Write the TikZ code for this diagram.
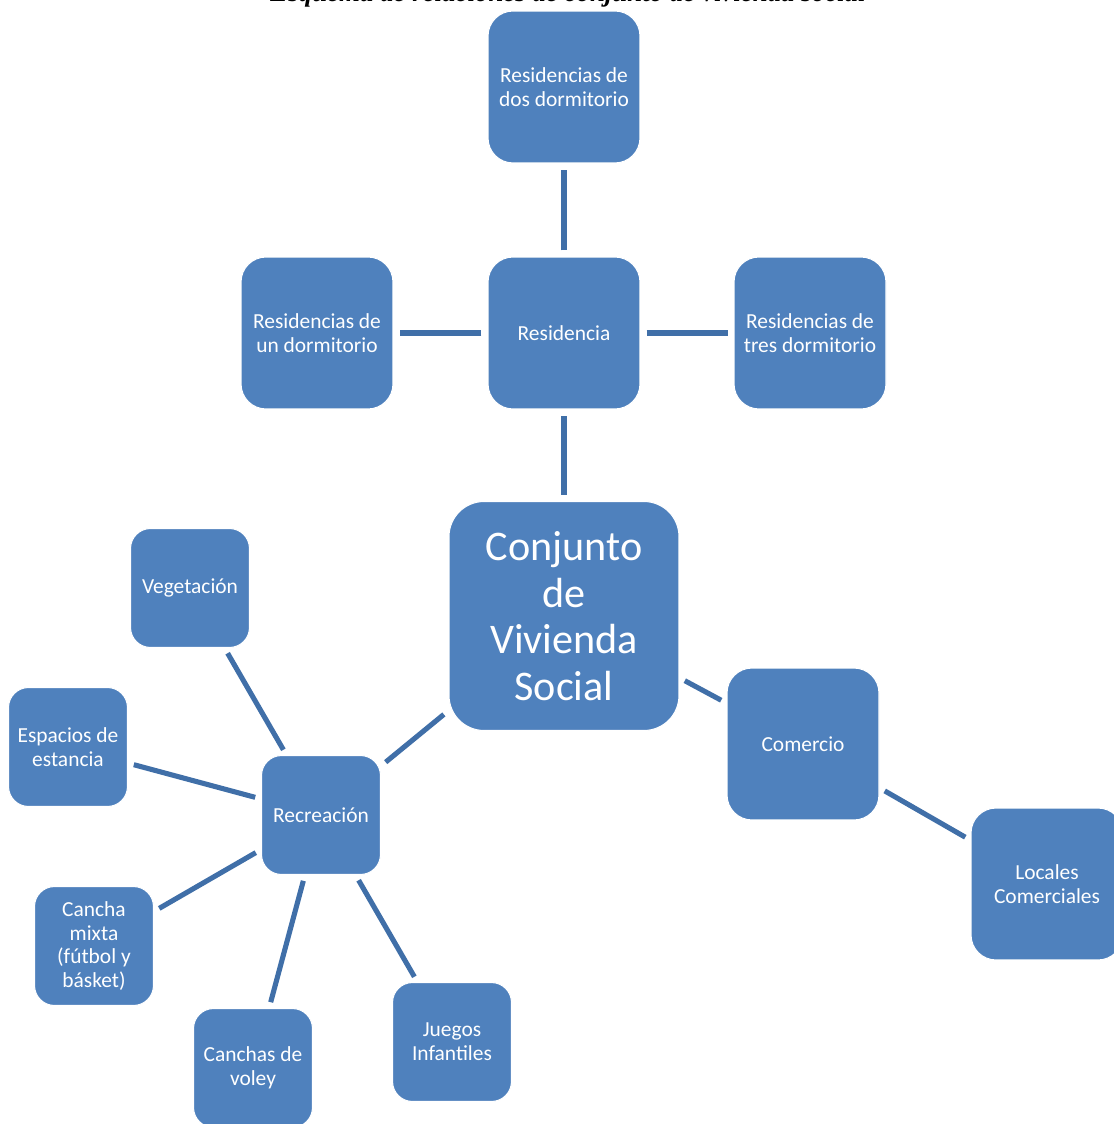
\documentclass[tikz,border=0pt]{standalone}
\usepackage{fontspec}
\setmainfont{Carlito}
\newfontfamily\titlefont{Liberation Serif}
\definecolor{boxblue}{RGB}{79,129,189}
\definecolor{lineblue}{RGB}{64,111,168}
\begin{document}
\begin{tikzpicture}[x=0.02cm,y=-0.02cm,
    box/.style={fill=boxblue,draw=white,line width=0.6pt,text=white,align=center,
                minimum width=3.04cm,minimum height=3.04cm,rounded corners=0.5cm,
                font=\fontsize{12.2}{13.6}\selectfont,inner sep=0pt},
    smallbox/.style={box,minimum width=2.38cm,minimum height=2.38cm,rounded corners=0.4cm},
    bigbox/.style={box,minimum width=4.6cm,minimum height=4.58cm,rounded corners=0.7cm,
                font=\fontsize{24}{26.5}\selectfont},
    link/.style={draw=lineblue,line width=2.9pt,shorten >=0.12cm,shorten <=0.12cm}]
  \useasboundingbox (0,0) rectangle (1113,1124);
  % title (cut by the page edge)
  \node[anchor=base,font=\titlefont\fontsize{15.3}{18}\selectfont\bfseries\itshape] (title) at (568,1.5)
       {Esquema de relaciones de conjunto de vivienda social};
  % residencia
  \node[box] (dos)  at (564,87)  {Residencias de\\dos dormitorio};
  \node[box] (res)  at (564,333) {Residencia};
  \node[box] (un)   at (317,333) {Residencias de\\un dormitorio};
  \node[box] (tres) at (810,333) {Residencias de\\tres dormitorio};
  %
  \node[bigbox] (cvs) at (564,616) {Conjunto\\de\\Vivienda\\Social};
  % recreacion
  \node[smallbox] (rec)  at (321,815)  {Recreaci\'on};
  \node[smallbox] (veg)  at (190,588)  {Vegetaci\'on};
  \node[smallbox] (esp)  at (68,747)   {Espacios de\\estancia};
  \node[smallbox] (mix)  at (94,946)   {Cancha\\mixta\\(f\'utbol y\\b\'asket)};
  \node[smallbox] (vol)  at (253,1068) {Canchas de\\voley};
  \node[smallbox] (jue)  at (452,1042) {Juegos\\Infantiles};
  % comercio
  \node[box] (com) at (803,744)  {Comercio};
  \node[box] (loc) at (1047,884) {Locales\\Comerciales};
  % links
  \draw[link] (res) -- (dos);
  \draw[link] (res) -- (un);
  \draw[link] (res) -- (tres);
  \draw[link] (cvs) -- (res);
  \draw[link] (cvs) -- (rec);
  \draw[link] (cvs) -- (com);
  \draw[link] (com) -- (loc);
  \foreach \n in {veg,esp,mix,vol,jue}
    \draw[link] (rec) -- (\n);
\end{tikzpicture}
\end{document}
